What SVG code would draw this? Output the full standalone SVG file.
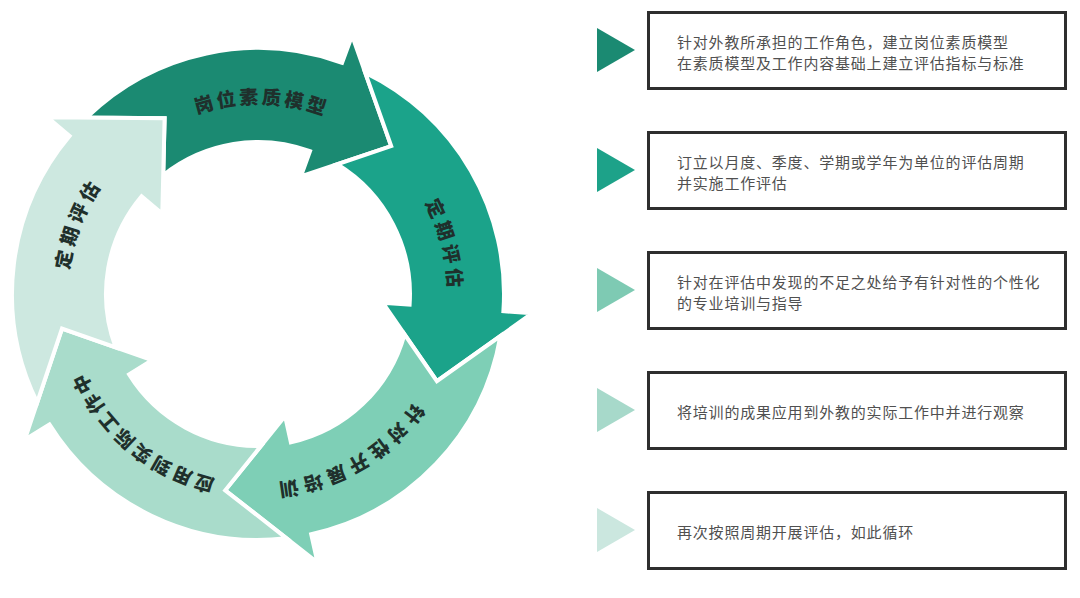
<svg xmlns="http://www.w3.org/2000/svg" xmlns:xlink="http://www.w3.org/1999/xlink" width="1080" height="598" viewBox="0 0 1080 598">
  <style>
    .arrow { stroke: #ffffff; stroke-width: 4; stroke-linejoin: miter; }
    .lbl { font-family: "Noto Sans CJK SC", "Noto Sans", sans-serif; font-size: 19px; font-weight: 900; fill: #1f302c; }
    .box { fill: #ffffff; stroke: #2e2e2e; stroke-width: 3; }
    .desc { font-family: "Noto Sans CJK SC", "Noto Sans", sans-serif; font-size: 15px; letter-spacing: 0.8px; fill: #505050; }
  </style>
  <defs>
    <path id="ring" d="M258,484 A190,190 0 1 1 258,104 A190,190 0 1 1 258,484"/>
  </defs>
  <rect width="1080" height="598" fill="#ffffff"/>

  <g id="cycle">
    <g id="arrow-model">
      <path class="arrow" fill="#1b8a72" d="M86.5,117.6 A246,246 0 0 1 342.1,62.8 L352.1,35.6 L391.2,146.1 L300.8,176.5 L310.0,151.2 A152,152 0 0 0 163.2,175.2 L164.6,118.3 Z"/>
      <text class="lbl" letter-spacing="3"><textPath xlink:href="#ring" href="#ring" startOffset="600.2" text-anchor="middle">岗位素质模型</textPath></text>
    </g>
    <g id="arrow-evaluate">
      <path class="arrow" fill="#1ba38a" d="M365.2,72.6 A246,246 0 0 1 503.4,311.2 L532.3,313.2 L436.9,381.2 L382.7,302.7 L409.6,304.6 A152,152 0 0 0 337.2,164.3 L391.2,146.1 Z"/>
      <text class="lbl" letter-spacing="4.2"><textPath xlink:href="#ring" href="#ring" startOffset="846.4" text-anchor="middle">定期评估</textPath></text>
    </g>
    <g id="arrow-training">
      <path class="arrow" fill="#7ecfb6" d="M500.4,336.0 A246,246 0 0 1 311.2,534.2 L317.5,562.5 L225.2,490.3 L285.1,416.0 L290.9,442.4 A152,152 0 0 0 404.5,334.4 L436.9,381.2 Z"/>
      <text class="lbl" letter-spacing="4.9"><textPath xlink:href="#ring" href="#ring" startOffset="1093.8" text-anchor="middle">针对性开展培训</textPath></text>
    </g>
    <g id="arrow-apply">
      <path class="arrow" fill="#a9dccb" d="M286.6,538.3 A246,246 0 0 1 49.4,424.4 L24.8,439.7 L62.0,328.5 L152.0,360.2 L129.1,374.5 A152,152 0 0 0 260.9,446.0 L225.2,490.3 Z"/>
      <text class="lbl" letter-spacing="3.2"><textPath xlink:href="#ring" href="#ring" startOffset="131.9" text-anchor="middle">应用到实际工作中</textPath></text>
    </g>
    <g id="arrow-repeat">
      <path class="arrow" fill="#cde8e0" d="M37.2,402.5 A246,246 0 0 1 69.6,135.9 L47.4,117.2 L164.6,118.3 L162.3,213.7 L141.6,196.3 A152,152 0 0 0 115.7,347.5 L62.0,328.5 Z"/>
      <text class="lbl" letter-spacing="4.5"><textPath xlink:href="#ring" href="#ring" startOffset="369" text-anchor="middle">定期评估</textPath></text>
    </g>
  </g>

  <g id="connectors"></g>

  <g id="step-1">
    <polygon points="597,28 635,50 597,72" fill="#1b8a72"/>
    <rect class="box" x="648.5" y="12.5" width="417" height="76"/>
    <text class="desc" x="677" y="47.5">针对外教所承担的工作角色，建立岗位素质模型</text>
    <text class="desc" x="677" y="68.5">在素质模型及工作内容基础上建立评估指标与标准</text>
  </g>
  <g id="step-2">
    <polygon points="597,148 635,170 597,192" fill="#1da289"/>
    <rect class="box" x="648.5" y="132.5" width="417" height="76"/>
    <text class="desc" x="677" y="167.5">订立以月度、季度、学期或学年为单位的评估周期</text>
    <text class="desc" x="677" y="188.5">并实施工作评估</text>
  </g>
  <g id="step-3">
    <polygon points="597,268 635,290 597,312" fill="#7ecab3"/>
    <rect class="box" x="648.5" y="252.5" width="417" height="76"/>
    <text class="desc" x="677" y="287.5">针对在评估中发现的不足之处给予有针对性的个性化</text>
    <text class="desc" x="677" y="308.5">的专业培训与指导</text>
  </g>
  <g id="step-4">
    <polygon points="597,388 635,410 597,432" fill="#a7d9ca"/>
    <rect class="box" x="648.5" y="372.5" width="417" height="76"/>
    <text class="desc" x="677" y="417.5">将培训的成果应用到外教的实际工作中并进行观察</text>
  </g>
  <g id="step-5">
    <polygon points="597,508 635,530 597,552" fill="#cbe7df"/>
    <rect class="box" x="648.5" y="492.5" width="417" height="76"/>
    <text class="desc" x="677" y="537.5">再次按照周期开展评估，如此循环</text>
  </g>
</svg>
